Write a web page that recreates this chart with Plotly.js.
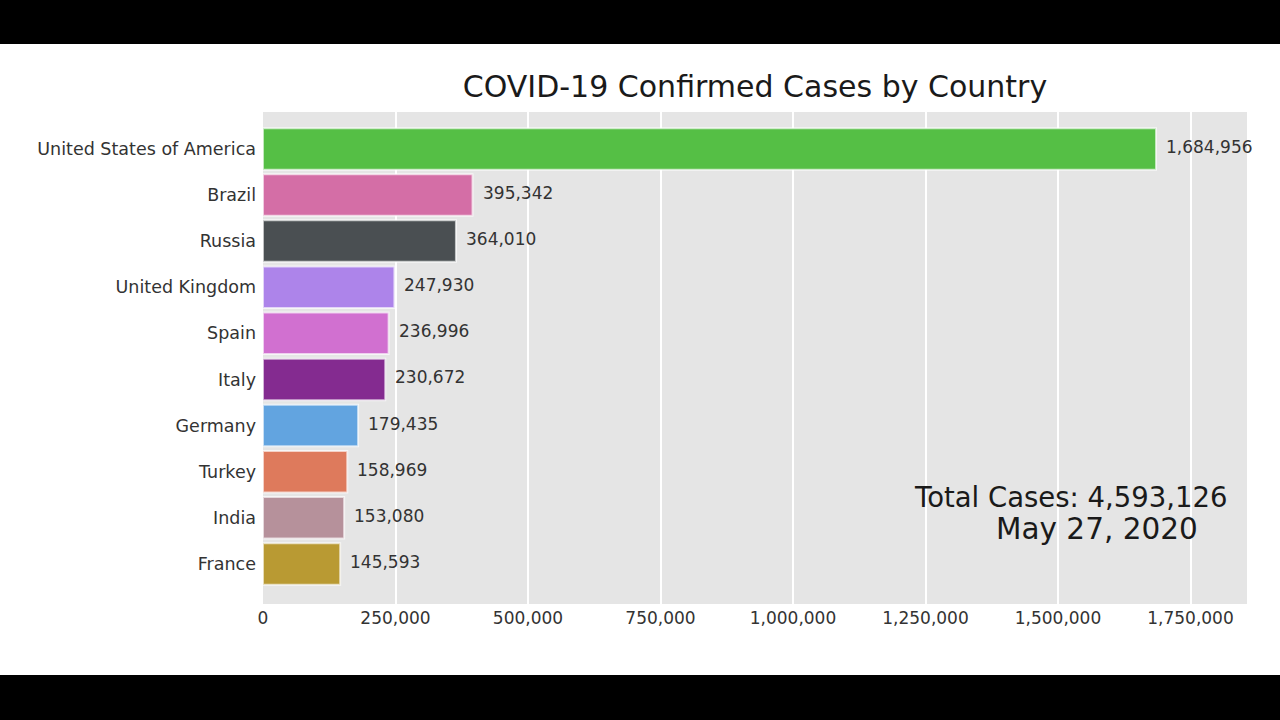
<!DOCTYPE html>
<html>
<head>
<meta charset="utf-8">
<script src="https://cdn.plot.ly/plotly-3.0.1.min.js"></script>
<style>
  html, body { margin: 0; padding: 0; background: #000; width: 1280px; height: 720px; overflow: hidden; }
  #chart { position: absolute; left: 0; top: 44px; width: 1280px; height: 631px; }
</style>
</head>
<body>
<div id="chart"></div>
<script>
const countries = ["United States of America", "Brazil", "Russia", "United Kingdom", "Spain", "Italy", "Germany", "Turkey", "India", "France"];
const cases = [1684956, 395342, 364010, 247930, 236996, 230672, 179435, 158969, 153080, 145593];
const barColors = ["#55bf45", "#d46ea6", "#4a4f52", "#ad84ea", "#d170d0", "#842b90", "#62a4e0", "#de7a5c", "#b6919b", "#b99a33"];
const tickValues = [0, 250000, 500000, 750000, 1000000, 1250000, 1500000, 1750000];
const tickLabels = ["0", "250,000", "500,000", "750,000", "1,000,000", "1,250,000", "1,500,000", "1,750,000"];
const totalLabel = "Total Cases: 4,593,126";
const dateLabel = "May 27, 2020";

const fmt = v => v.toLocaleString("en-US");

const trace = {
  type: "bar",
  orientation: "h",
  x: cases,
  y: countries,
  width: 0.9,
  marker: { color: barColors, line: { color: "rgba(255,255,255,0.65)", width: 2 } },
  hoverinfo: "skip"
};

const annotations = countries.map((c, i) => ({
  x: cases[i], y: c, xref: "x", yref: "y",
  text: fmt(cases[i]), showarrow: false,
  xanchor: "left", yanchor: "middle", xshift: 8, yshift: 2,
  font: { family: "DejaVu Sans", size: 17, color: "#333" }
}));
annotations.push({
  x: 0.983, y: 0.2175, xref: "paper", yref: "paper",
  text: totalLabel, showarrow: false, xanchor: "right", yanchor: "middle",
  font: { family: "DejaVu Sans", size: 27.5, color: "#1a1a1a" }
});
annotations.push({
  x: 0.9525, y: 0.152, xref: "paper", yref: "paper",
  text: dateLabel, showarrow: false, xanchor: "right", yanchor: "middle",
  font: { family: "DejaVu Sans", size: 29.5, color: "#1a1a1a" }
});

const layout = {
  width: 1280, height: 631,
  paper_bgcolor: "#ffffff",
  plot_bgcolor: "#e5e5e5",
  margin: { l: 263, r: 33, t: 68, b: 71 },
  showlegend: false,
  font: { family: "DejaVu Sans", color: "#333" },
  title: {
    text: "COVID-19 Confirmed Cases by Country",
    x: 0.5, xref: "paper", xanchor: "center",
    y: 1 - 42 / 631, yref: "container", yanchor: "middle",
    font: { family: "DejaVu Sans", size: 30, color: "#1a1a1a" }
  },
  xaxis: {
    range: [0, 1856600],
    tickmode: "array", tickvals: tickValues, ticktext: tickLabels,
    showgrid: true, gridcolor: "#ffffff", gridwidth: 2,
    zeroline: false, showline: false, ticks: "",
    ticklabelstandoff: 2,
    tickfont: { family: "DejaVu Sans", size: 17, color: "#333" }
  },
  yaxis: {
    type: "category",
    categoryorder: "array", categoryarray: countries,
    range: [9.87, -0.8],
    showgrid: false, zeroline: false, showline: false, ticks: "",
    ticklabelstandoff: 6,
    tickfont: { family: "DejaVu Sans", size: 17.5, color: "#333" }
  },
  annotations: annotations
};

Plotly.newPlot("chart", [trace], layout, { staticPlot: true, displayModeBar: false });
</script>
</body>
</html>
